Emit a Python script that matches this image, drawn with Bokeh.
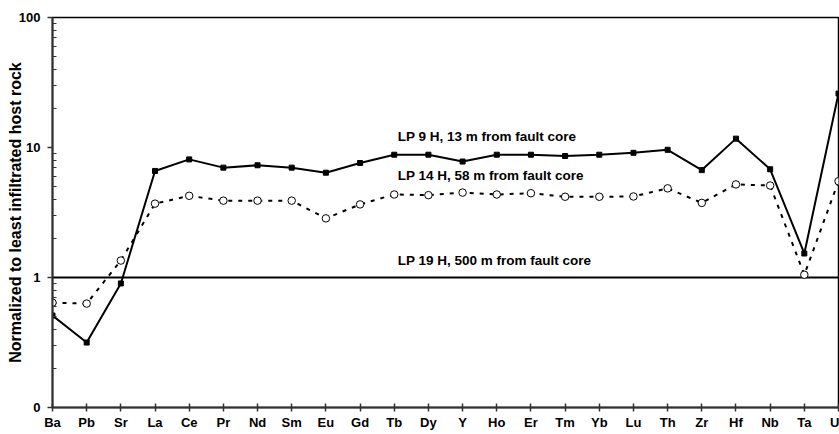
from bokeh.plotting import figure
from bokeh.models import Range1d, FixedTicker, CustomJSTickFormatter, ColumnDataSource, Label
from bokeh.embed import file_html
from bokeh.resources import INLINE

elements = ["Ba", "Pb", "Sr", "La", "Ce", "Pr", "Nd", "Sm", "Eu", "Gd", "Tb", "Dy",
            "Y", "Ho", "Er", "Tm", "Yb", "Lu", "Th", "Zr", "Hf", "Nb", "Ta", "U"]
lp9h = [0.51, 0.316, 0.90, 6.6, 8.1, 7.0, 7.3, 7.0, 6.4, 7.6, 8.8, 8.8,
        7.8, 8.8, 8.8, 8.6, 8.8, 9.1, 9.6, 6.7, 11.7, 6.8, 1.53, 26.0]
lp14h = [0.64, 0.63, 1.35, 3.7, 4.25, 3.9, 3.9, 3.9, 2.85, 3.65, 4.35, 4.3,
         4.5, 4.35, 4.45, 4.18, 4.18, 4.2, 4.85, 3.75, 5.2, 5.1, 1.05, 5.5]
lp19h = [1.0] * len(elements)

labels = ["LP 9 H, 13 m from fault core", "LP 14 H, 58 m from fault core",
          "LP 19 H, 500 m from fault core"]
label_x = [10.1, 10.1, 10.1]
label_y = [10.6, 5.3, 1.18]
y_title = "Normalized to least infiltrated host rock"

FONT = "Liberation Sans"

xs = list(range(len(elements)))

p = figure(width=839, height=434, y_axis_type="log",
           x_range=Range1d(0, len(elements) - 1), y_range=Range1d(0.1, 100),
           output_backend="svg", toolbar_location=None,
           min_border_left=52, min_border_right=1, min_border_top=17, min_border_bottom=27)

p.xgrid.visible = False
p.ygrid.visible = False
p.outline_line_color = "black"
p.outline_line_width = 1.5
p.background_fill_color = "white"
p.border_fill_color = "white"

# x axis
p.xaxis.ticker = FixedTicker(ticks=xs)
p.xaxis.formatter = CustomJSTickFormatter(args=dict(names=elements),
                                          code="return names[Math.round(tick)] || '';")
p.xaxis.major_tick_in = 4
p.xaxis.major_tick_out = 4
p.xaxis.minor_tick_line_color = None
p.xaxis.axis_line_width = 2
p.xaxis.axis_line_color = "#333333"
p.xaxis.major_tick_line_color = "#333333"
p.xaxis.major_tick_line_width = 1.5
p.xaxis.major_label_text_font = FONT
p.xaxis.major_label_text_font_style = "bold"
p.xaxis.major_label_text_font_size = "13px"
p.xaxis.major_label_text_color = "black"
p.xaxis.major_label_standoff = 3

# y axis
minor = [m * 10.0 ** e for e in (-1, 0, 1) for m in range(2, 10)]
p.yaxis.ticker = FixedTicker(ticks=[0.1, 1, 10, 100], minor_ticks=minor)
p.yaxis.formatter = CustomJSTickFormatter(code="return tick < 0.5 ? '0' : String(Math.round(tick));")
p.yaxis.major_tick_in = 0
p.yaxis.major_tick_out = 5
p.yaxis.minor_tick_in = 4
p.yaxis.minor_tick_out = 0
p.yaxis.axis_line_width = 2
p.yaxis.axis_line_color = "#333333"
p.yaxis.major_tick_line_color = "#333333"
p.yaxis.minor_tick_line_color = "#333333"
p.yaxis.major_tick_line_width = 1.5
p.yaxis.major_label_text_font = FONT
p.yaxis.major_label_text_font_style = "bold"
p.yaxis.major_label_text_font_size = "13px"
p.yaxis.major_label_text_color = "black"
p.yaxis.major_label_standoff = 7
p.yaxis.axis_label = y_title
p.yaxis.axis_label_text_font = FONT
p.yaxis.axis_label_text_font_style = "bold"
p.yaxis.axis_label_text_font_size = "16px"
p.yaxis.axis_label_text_color = "black"
p.yaxis.axis_label_standoff = -8

src = ColumnDataSource(dict(x=xs, a=lp9h, b=lp14h, c=lp19h))

p.line("x", "c", source=src, line_color="black", line_width=2)
p.line("x", "b", source=src, line_color="black", line_width=2, line_dash="4 6")
p.scatter("x", "b", source=src, marker="circle", size=7.5, fill_color="white",
          line_color="black", line_width=1)
p.line("x", "a", source=src, line_color="black", line_width=2)
p.scatter("x", "a", source=src, marker="square", size=5, fill_color="black",
          line_color="black")

for t, lx, ly in zip(labels, label_x, label_y):
    p.add_layout(Label(x=lx, y=ly, text=t, text_font=FONT, text_font_style="bold",
                       text_font_size="13.5px", text_color="black",
                       text_baseline="bottom", text_align="left"))

open("out.html", "w").write(file_html(p, INLINE))
